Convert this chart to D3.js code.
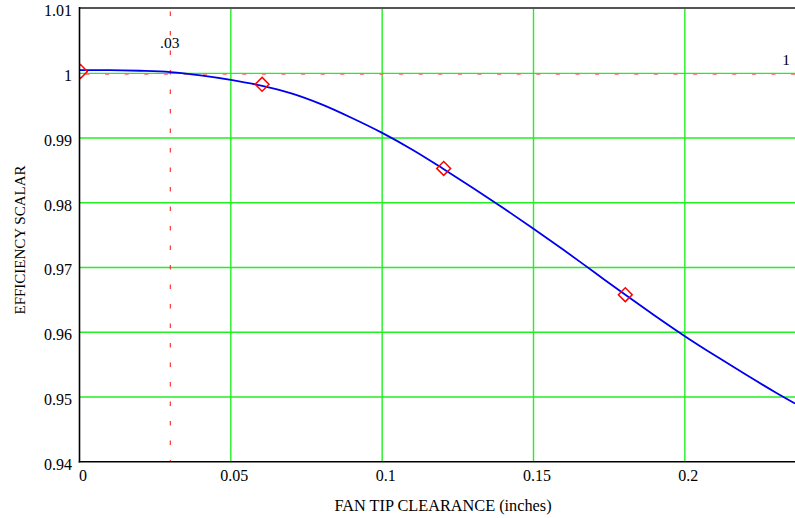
<!DOCTYPE html>
<html>
<head>
<meta charset="utf-8">
<script src="https://cdn.jsdelivr.net/npm/d3@7"></script>
<style>
  html, body { margin: 0; padding: 0; background: #ffffff; }
  svg { display: block; }
  text { font-family: "Liberation Serif", "Times New Roman", serif; fill: #000; }
</style>
</head>
<body>
<svg id="chart" width="795" height="518"></svg>
<script>
// Efficiency scalar as a function of fan tip clearance
const clearance = [0, 0.01, 0.02, 0.03, 0.04, 0.05, 0.06, 0.07, 0.08, 0.09, 0.10, 0.11,
                   0.12, 0.13, 0.14, 0.15, 0.16, 0.17, 0.18, 0.19, 0.20, 0.21, 0.22, 0.23, 0.2364];
const efficiency = [1.0005, 1.0005, 1.0004, 1.0002, 0.9997, 0.9990, 0.9981, 0.9969, 0.9952,
                    0.9931, 0.9908, 0.9882, 0.9853, 0.9823, 0.9792, 0.9760, 0.9727, 0.9693,
                    0.9659, 0.9626, 0.9594, 0.9564, 0.9535, 0.9507, 0.9490];

// Measured points
const pointX = [0, 0.06, 0.12, 0.18];
const pointY = [1.0003, 0.9983, 0.9853, 0.9658];

// Reference markers
const markerX = 0.03;
const markerXLabel = ".03";
const markerY = 1;
const markerYLabel = "1";

const xTicks = [0, 0.05, 0.1, 0.15, 0.2];
const xTickLabels = ["0", "0.05", "0.1", "0.15", "0.2"];
const yTicks = [0.94, 0.95, 0.96, 0.97, 0.98, 0.99, 1, 1.01];
const yTickLabels = ["0.94", "0.95", "0.96", "0.97", "0.98", "0.99", "1", "1.01"];

const xTitle = "FAN TIP CLEARANCE (inches)";
const yTitle = "EFFICIENCY SCALAR";

(function draw() {
  const svg = d3.select("#chart");
  const pl = 79.5, pr = 795, pt = 8.6, pb = 461.7;

  const x = d3.scaleLinear().domain([0, 0.2364]).range([pl, pr]);
  const y = d3.scaleLinear().domain([0.94, 1.01]).range([pb, pt]);

  svg.append("defs").append("clipPath").attr("id", "plotClip")
    .append("rect").attr("x", pl).attr("y", pt)
    .attr("width", pr - pl).attr("height", pb - pt);

  const plot = svg.append("g").attr("clip-path", "url(#plotClip)");

  // Grid lines
  plot.append("g").selectAll("line").data(xTicks.filter(d => d > 0)).join("line")
    .attr("x1", d => x(d)).attr("x2", d => x(d))
    .attr("y1", pt).attr("y2", pb)
    .attr("stroke", "#22ee22").attr("stroke-width", 1.4);
  plot.append("g").selectAll("line").data(yTicks.filter(d => d > 0.94 && d < 1.01)).join("line")
    .attr("x1", pl).attr("x2", pr)
    .attr("y1", d => y(d)).attr("y2", d => y(d))
    .attr("stroke", "#22ee22").attr("stroke-width", 1.4);

  // Reference marker lines
  plot.append("line")
    .attr("x1", x(markerX)).attr("x2", x(markerX))
    .attr("y1", pt).attr("y2", pb)
    .attr("stroke", "#ff2020").attr("stroke-width", 1.1)
    .attr("stroke-dasharray", "4.5,15").attr("stroke-dashoffset", -3);
  plot.append("line")
    .attr("x1", pl).attr("x2", pr)
    .attr("y1", y(markerY) + 1).attr("y2", y(markerY) + 1)
    .attr("stroke", "#ff6060").attr("stroke-opacity", 0.75).attr("stroke-width", 1.4)
    .attr("stroke-dasharray", "4,15.6").attr("stroke-dashoffset", -6);

  // Efficiency curve
  const curveData = clearance.map((c, i) => [c, efficiency[i]]);
  plot.append("path").datum(curveData)
    .attr("fill", "none").attr("stroke", "#0000ee").attr("stroke-width", 1.8)
    .attr("d", d3.line().x(d => x(d[0])).y(d => y(d[1])).curve(d3.curveMonotoneX));

  // Diamond markers
  const diamond = d3.symbol().type(d3.symbolSquare).size(96);
  plot.append("g").selectAll("path").data(pointX.map((p, i) => [p, pointY[i]])).join("path")
    .attr("d", diamond)
    .attr("transform", d => `translate(${x(d[0]) + 1},${y(d[1])}) rotate(45)`)
    .attr("fill", "none").attr("stroke", "#ff0000").attr("stroke-width", 1.5);

  // Frame
  svg.append("line").attr("x1", pl).attr("x2", pr).attr("y1", pt - 0.5).attr("y2", pt - 0.5)
    .attr("stroke", "#555").attr("stroke-width", 2);
  svg.append("line").attr("x1", pl).attr("x2", pl).attr("y1", pt - 1.5).attr("y2", pb + 0.8)
    .attr("stroke", "#000").attr("stroke-width", 1.6);
  svg.append("line").attr("x1", pl - 0.8).attr("x2", pr).attr("y1", pb).attr("y2", pb)
    .attr("stroke", "#000").attr("stroke-width", 1.6);

  // Tick labels
  svg.append("g").selectAll("text").data(xTicks).join("text")
    .attr("x", d => x(d) + 3.5).attr("y", 481)
    .attr("text-anchor", "middle").attr("font-size", 16)
    .text((d, i) => xTickLabels[i]);
  svg.append("g").selectAll("text").data(yTicks).join("text")
    .attr("x", 72).attr("y", d => y(d) + 7.8)
    .attr("text-anchor", "end").attr("font-size", 16)
    .text((d, i) => yTickLabels[i]);

  // Marker labels
  svg.append("text").attr("x", x(markerX) - 0.5).attr("y", 47.5)
    .attr("text-anchor", "middle").attr("font-size", 15.5).text(markerXLabel);
  svg.append("text").attr("x", 786).attr("y", 65)
    .attr("text-anchor", "middle").attr("font-size", 15.5).text(markerYLabel);

  // Axis titles
  svg.append("text").attr("x", 443).attr("y", 511)
    .attr("text-anchor", "middle").attr("font-size", 16.3).text(xTitle);
  svg.append("text").attr("transform", "translate(24.5,240) rotate(-90)")
    .attr("text-anchor", "middle").attr("font-size", 15).text(yTitle);
})();
</script>
</body>
</html>
